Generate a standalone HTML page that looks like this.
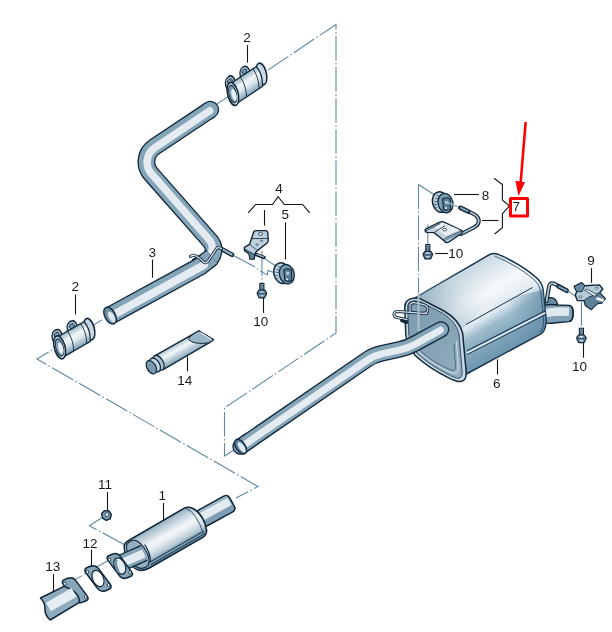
<!DOCTYPE html>
<html><head><meta charset="utf-8">
<style>
html,body{margin:0;padding:0;background:#fff;}
svg{display:block;}
text{font-family:"Liberation Sans",sans-serif;font-size:13.5px;fill:#1a1a1a;}
.dd{fill:none;stroke:#6088a0;stroke-width:1.1;stroke-dasharray:24.5 2.5 1.6 2.5;}
.ld{fill:none;stroke:#151515;stroke-width:1.1;}
.po{fill:none;stroke:#10273a;stroke-linejoin:round;}
.pm{fill:none;stroke:#84a4b8;stroke-linejoin:round;}
.ph{fill:none;stroke:#e4ecf1;stroke-linejoin:round;}
</style></head><body>
<svg width="612" height="632" viewBox="0 0 612 632">
<defs>
<linearGradient id="gTop" x1="0" y1="0" x2="1" y2="1">
<stop offset="0" stop-color="#9db8c8"/><stop offset="0.45" stop-color="#f4f8fa"/><stop offset="1" stop-color="#a9c1cf"/>
</linearGradient>
<linearGradient id="gSide" x1="0" y1="0" x2="0.4" y2="1">
<stop offset="0" stop-color="#a9c3d2"/><stop offset="1" stop-color="#6f95ad"/>
</linearGradient>
<linearGradient id="gFace" x1="0" y1="0" x2="1" y2="1">
<stop offset="0" stop-color="#7d9cb0"/><stop offset="0.6" stop-color="#86a4b6"/><stop offset="1" stop-color="#93afc0"/>
</linearGradient>
<linearGradient id="gBody" gradientUnits="userSpaceOnUse" x1="452" y1="262" x2="512" y2="362">
<stop offset="0" stop-color="#8fb0c3"/><stop offset="0.12" stop-color="#c9d9e2"/><stop offset="0.38" stop-color="#f6f9fb"/><stop offset="0.55" stop-color="#dfe9ef"/><stop offset="0.64" stop-color="#9dbbcc"/><stop offset="0.8" stop-color="#7ba1b8"/><stop offset="1" stop-color="#5f8ba6"/>
</linearGradient>
<linearGradient id="gClamp" x1="0" y1="0" x2="0" y2="1">
<stop offset="0" stop-color="#9cb7c7"/><stop offset="0.35" stop-color="#f2f6f8"/><stop offset="0.6" stop-color="#dbe6ec"/><stop offset="1" stop-color="#7fa0b5"/>
</linearGradient>
<g id="clampdef">
<path d="M-21.5 -6 Q-23 -16.5 -16.5 -17 Q-10.5 -17 -11 -8 Z" fill="#b7cbd8" stroke="#10273a" stroke-width="1.4"/>
<ellipse cx="-16.3" cy="-12.2" rx="2.8" ry="2.2" fill="#7797ad" stroke="#10273a" stroke-width="0.8"/>
<path d="M-4 -7 Q-5.5 -16.5 1 -17 Q7 -17 6.5 -8 Z" fill="#b7cbd8" stroke="#10273a" stroke-width="1.4"/>
<ellipse cx="1.2" cy="-12.2" rx="2.8" ry="2.2" fill="#7797ad" stroke="#10273a" stroke-width="0.8"/>
<ellipse cx="17.4" cy="-0.4" rx="5.2" ry="10.8" fill="#c9d8e2" stroke="#10273a" stroke-width="1.6"/>
<path d="M-17 -9.8 L14.6 -9.8 Q18.6 0.5 14.6 11 L-17 11 Z" fill="url(#gClamp)" stroke="#10273a" stroke-width="1.3"/>
<path d="M-4.5 -9.6 Q-1.5 0.5 -4.5 10.8" fill="none" stroke="#10273a" stroke-width="0.8"/>
<path d="M10.6 -9.6 Q13.6 0.5 10.6 10.8" fill="none" stroke="#10273a" stroke-width="0.8"/>
<ellipse cx="-17.2" cy="0.6" rx="5.6" ry="11.6" fill="#dbe6ed" stroke="#10273a" stroke-width="1.6"/>
<ellipse cx="-17.4" cy="0.6" rx="3.9" ry="8.8" fill="#7f9fb4" stroke="#10273a" stroke-width="1"/>
<ellipse cx="-16.4" cy="2" rx="2.4" ry="6" fill="#e9f0f4"/>
</g>
<linearGradient id="gCat" gradientUnits="userSpaceOnUse" x1="157" y1="521" x2="176" y2="554">
<stop offset="0" stop-color="#7f9db0"/><stop offset="0.2" stop-color="#b9cbd6"/><stop offset="0.45" stop-color="#f4f7f9"/><stop offset="0.58" stop-color="#e4ebf0"/><stop offset="0.76" stop-color="#b4c8d4"/><stop offset="0.84" stop-color="#7fa0b5"/><stop offset="1" stop-color="#62889f"/>
</linearGradient>
<linearGradient id="gTube" gradientUnits="userSpaceOnUse" x1="176" y1="342" x2="185" y2="358">
<stop offset="0" stop-color="#9ab6c6"/><stop offset="0.4" stop-color="#f4f8fa"/><stop offset="1" stop-color="#7da0b6"/>
</linearGradient>
<filter id="noop" x="0" y="0" width="612" height="632" filterUnits="userSpaceOnUse"><feOffset dx="0" dy="0"/></filter>
<g id="boltdef">
<rect x="-2.1" y="0" width="4.2" height="7.4" fill="#9db7c6" stroke="#10273a" stroke-width="1"/>
<path d="M-2.1 1.8 H2.1 M-2.1 3.6 H2.1 M-2.1 5.4 H2.1" stroke="#10273a" stroke-width="0.7"/>
<path d="M-2.9 6.8 L-4.7 9.4 L-4.4 11 L-2.8 14.4 L2.8 14.4 L4.4 11 L4.7 9.4 L2.9 6.8 Z" fill="#7392a8" stroke="#10273a" stroke-width="1.2" stroke-linejoin="round"/>
<path d="M-4.2 10 Q0 11.6 4.2 10" fill="none" stroke="#10273a" stroke-width="0.7"/>
<path d="M-1.6 8.4 L1.6 8.4 M-1.4 12.4 L1.4 12.4" fill="none" stroke="#dfe8ee" stroke-width="1.1"/>
</g>
<g id="mountdef">
<ellipse cx="-2.2" cy="-1" rx="8" ry="10.4" transform="rotate(-14)" fill="#c3d4df" stroke="#10273a" stroke-width="1.5"/>
<path d="M-6.4 -7.4 L-3.6 -6.2 M-7.8 -4.6 L-5 -3.4 M-8.6 -1.6 L-5.8 -0.6 M-8.8 1.6 L-6 2.4 M-8.4 4.6 L-5.6 5.2 M-7.2 7.4 L-4.6 7.8" fill="none" stroke="#4f7189" stroke-width="1.1"/>
<ellipse cx="2.4" cy="1.2" rx="7.4" ry="9.8" transform="rotate(-14)" fill="#7d9db2" stroke="#10273a" stroke-width="1.3"/>
<path d="M-0.4 -3.6 Q3.4 -6 7.2 -3.6 L7.6 6.6 Q4.4 8.8 0.6 7 Z" fill="#5b7d94" stroke="#10273a" stroke-width="1.1" stroke-linejoin="round"/>
<path d="M2.2 -1.8 L5.4 -1.2 L4.6 1.6 L2 1 Z" fill="#b7cbd8" stroke="none"/>
<circle cx="3" cy="5.6" r="1" fill="#dfe8ee"/>
</g>
<linearGradient id="gAx" gradientUnits="userSpaceOnUse" x1="425" y1="312" x2="478" y2="281">
<stop offset="0" stop-color="#7f9fb3" stop-opacity="0.75"/><stop offset="0.45" stop-color="#9db7c6" stop-opacity="0.4"/><stop offset="1" stop-color="#c9d9e2" stop-opacity="0"/>
</linearGradient>
<linearGradient id="gAx2" gradientUnits="userSpaceOnUse" x1="545" y1="300" x2="515" y2="318">
<stop offset="0" stop-color="#54809c" stop-opacity="0.5"/><stop offset="1" stop-color="#54809c" stop-opacity="0"/>
</linearGradient>
</defs>
<rect width="612" height="632" fill="#fff"/>

<!-- ====== DASH-DOT CENTER LINES ====== -->
<g id="dashlines">
<path class="dd" d="M268 70 L336 24.5 L336 333 L224.5 408 L224.5 456 L240 446"/>
<path class="dd" d="M212 107 L234 93"/>
<path class="dd" d="M102 320 L37 359 L258 486.5 L236 498"/>
<path class="dd" d="M418.5 184.5 L418.5 330"/>
<path class="dd" d="M103 517 L89.4 525.7 L124 544.5" stroke-dasharray="12 2 2 2"/>
<path class="dd" d="M109 560 L66 585" stroke-dasharray="none"/>
<path class="dd" d="M418.5 184.5 L436 196"/>
</g>

<!-- ====== PIPE 3 ====== -->
<g id="pipe3">
<!-- stud pin -->
<path d="M222.5 249.5 L232 254.8" stroke="#10273a" stroke-width="4.6" stroke-linecap="round" fill="none"/>
<path d="M223 249.6 L231.6 254.4" stroke="#9fb8c7" stroke-width="2.2" stroke-linecap="round" fill="none"/>
<!-- upper part -->
<path class="po" stroke-width="17.8" stroke-linecap="round" d="M210.3 109.7 L209 110.6"/>
<path class="po" stroke-width="17.8" d="M210.3 109.7 L154.5 146.9 A18 18 0 0 0 150.9 173.8 L210.3 241.1 A13 13 0 0 1 206.8 261.1 L196 267"/>
<path class="pm" stroke-width="15.2" stroke-linecap="round" d="M210.3 109.7 L209 110.6"/>
<path class="pm" stroke-width="15.2" d="M210.3 109.7 L154.5 146.9 A18 18 0 0 0 150.9 173.8 L210.3 241.1 A13 13 0 0 1 206.8 261.1 L196 267"/>
<path class="ph" stroke-width="7.4" stroke-linecap="round" d="M209.8 110.7 L155 147.6 A17.5 17.5 0 0 0 151.5 173.8 L210 240.6 A12 12 0 0 1 209 256"/>
<!-- lower part -->
<path class="po" stroke-width="18.6" d="M110.1 315.6 L200 266.4 L212 257"/>
<path class="pm" stroke-width="16" d="M110.1 315.6 L200 266.4 L212 257"/>
<path class="ph" stroke-width="8" stroke-linecap="round" d="M114 314.4 L204 265"/>
<!-- open end -->
<ellipse cx="110.1" cy="315.6" rx="5.2" ry="9.2" transform="rotate(-28.6 110.1 315.6)" fill="#6d8fa6" stroke="#10273a" stroke-width="1.4"/>
<ellipse cx="111.6" cy="317" rx="2.8" ry="6" transform="rotate(-28.6 111.6 317)" fill="#dce7ee"/>
<!-- wire clip -->
<path d="M190.5 256.5 Q192.5 254 197 256.5 Q201 259 203.5 262 Q206 264 208.5 260.5 L216.5 248.5 Q218 246.8 221.5 248.6" fill="none" stroke="#10273a" stroke-width="3" stroke-linecap="round" stroke-linejoin="round"/>
<path d="M190.5 256.5 Q192.5 254 197 256.5 Q201 259 203.5 262 Q206 264 208.5 260.5 L216.5 248.5 Q218 246.8 221.5 248.6" fill="none" stroke="#d6e2ea" stroke-width="1.3" stroke-linecap="round" stroke-linejoin="round"/>
</g>

<!-- ====== CLAMPS (2) ====== -->
<g id="clamps">
<use href="#clampdef" transform="matrix(0.834 -0.552 0.30 0.954 247.1 83.9)"/>
<use href="#clampdef" transform="matrix(0.866 -0.5 0.30 0.954 74.4 338.2)"/>
</g>

<!-- ====== LONG PIPE + MUFFLER ====== -->
<g id="muffler">
<!-- tail pipe -->
<path d="M545 301 Q546 297.4 551.4 297.6 Q556.4 298.4 557.6 304.6 L557 312 L545 312 Z" fill="#6a8ca3" stroke="#10273a" stroke-width="1.3" stroke-linejoin="round"/>
<path d="M540 306.4 Q548 303.6 557.6 305 L569.4 305.4 Q573.4 306.4 573.2 313.4 Q573 320.6 569 321.6 L556 322.8 Q548 324 540 322.6 Z" fill="#7fa0b5" stroke="#10273a" stroke-width="1.4" stroke-linejoin="round"/>
<path d="M546 313 Q556 311 569 311.8" stroke="#dfe8ee" stroke-width="8.6" fill="none"/>
<path d="M569.4 305.4 Q573.4 306.4 573.2 313.4 Q573 320.6 569 321.6" fill="none" stroke="#10273a" stroke-width="1.4"/>
<!-- rear hanger rod -->
<path d="M546.6 301 L549 286.6 Q549.8 282.2 554 283.6 L566.6 290.6" fill="none" stroke="#10273a" stroke-width="4" stroke-linecap="round" stroke-linejoin="round"/>
<path d="M546.6 301 L549 286.6 Q549.8 282.2 554 283.6 L566.6 290.6" fill="none" stroke="#b9cdd9" stroke-width="1.7" stroke-linecap="round" stroke-linejoin="round"/>
<path d="M558.6 286.4 L566.8 290.8" fill="none" stroke="#10273a" stroke-width="4.6" stroke-linecap="round"/>
<path d="M559 286.6 L566.4 290.5" fill="none" stroke="#7b9bb0" stroke-width="2" stroke-linecap="round"/>
<!-- body -->
<path d="M410 300.8 L486.4 256.4 Q492 252 498.4 254.4 Q521 264 536.8 278 Q542.4 283 543.2 290 L546 319 Q546.6 329.6 541.4 333.6 L466.4 374 L440 372 Z" fill="url(#gBody)" stroke="#17324a" stroke-width="1.5" stroke-linejoin="round"/>
<path d="M410 300.8 L486.4 256.4 Q492 252 498.4 254.4 L520 267 L462 330 Z" fill="url(#gAx)"/>
<path d="M543.2 290 L546 319 Q546.6 329.6 541.4 333.6 L500 356 L500 300 Z" fill="url(#gAx2)"/>
<path d="M494.6 256 Q518 265.8 533.8 279.4 Q539.8 284.6 540.8 291.6 L543.6 320 Q544 328.6 539.6 332.4" fill="none" stroke="#24445e" stroke-width="0.8"/>
<!-- seam lines -->
<path d="M466 324.5 L532.5 287.5" stroke="#17324a" stroke-width="1" fill="none"/>
<path d="M466.8 351 L545 311" stroke="#17324a" stroke-width="1.1" fill="none"/>
<path d="M467 352.8 L545.2 312.8" stroke="#dfe9ef" stroke-width="1.6" fill="none"/>
<path d="M467.2 354.6 L545.6 314.6" stroke="#17324a" stroke-width="0.9" fill="none"/>
<!-- front face -->
<path d="M407.5 300.5 Q412 297 420 298.6 L444 311 Q459 319.5 462.6 333 L466.2 372 Q466.6 383.4 457 381.2 L450 378.6 Q428 367.6 415 355.2 Q407 345 405.8 335 L404.8 307 Q404.8 302.5 407.5 300.5 Z" fill="#cbd9e3" stroke="#10273a" stroke-width="1.5" stroke-linejoin="round"/>
<path d="M409 302.6 Q412.6 299.8 419.6 301.2 L442.6 313.2 Q455.6 320.6 459 333.6 L462.2 371.6 Q462.6 379.6 456.4 378 L450.6 375.8 Q429.6 365.2 417 353.2 Q409.8 344 408.8 334.6 L407.6 308 Q407.6 304.2 409 302.6 Z" fill="url(#gFace)" stroke="#24445e" stroke-width="0.9" stroke-linejoin="round"/>
<path d="M414 338 Q412.6 346.6 420.4 353.4 Q432 363.8 450.6 372.4 Q458 375.2 458.4 369 L456.4 341" fill="none" stroke="#c5d5df" stroke-width="1.3"/>
<path d="M416.4 341 Q416 347.6 422.6 353 Q433.6 362.4 450 369.6 Q455.4 371.6 455.6 367 L454 344" fill="none" stroke="#365670" stroke-width="0.7"/>
<!-- wire loop on face -->
<g fill="none" stroke-linecap="round" stroke-linejoin="round">
<path d="M426.6 313.6 L397.4 311.4 Q393.4 311.8 394 315 Q394.8 317.6 398.6 317.8 L407 319.6" stroke="#10273a" stroke-width="3"/>
<path d="M410 312.4 L410 305.4 Q410.6 302 415.6 302.8 L423.6 304.6 Q428.6 306 427.8 310.4 Q427 313.8 422.4 313.6" stroke="#10273a" stroke-width="3"/>
<path d="M426.6 313.6 L397.4 311.4 Q393.4 311.8 394 315 Q394.8 317.6 398.6 317.8 L407 319.6" stroke="#d3e0e8" stroke-width="1.2"/>
<path d="M410 312.4 L410 305.4 Q410.6 302 415.6 302.8 L423.6 304.6 Q428.6 306 427.8 310.4 Q427 313.8 422.4 313.6" stroke="#d3e0e8" stroke-width="1.2"/>
<path d="M401.6 320.6 L406.6 322.4" stroke="#10273a" stroke-width="3.2"/>
</g>
<path d="M418.5 292 V331" stroke="#dce8ef" stroke-width="1.6" fill="none"/>
<path d="M418.5 292 V331" stroke="#7fa3b8" stroke-width="0.6" fill="none"/>
<!-- long pipe -->
<path class="po" stroke-width="16.5" stroke-linecap="round" d="M240.6 446.6 L366.4 360 Q373.2 355.2 381.4 353.4 L399.6 349.4 Q407.6 347.7 414.2 344 L441 329.4"/>
<path class="po" stroke-width="16.5" d="M240.6 446.6 L250 440" stroke-linecap="butt"/>
<path class="pm" stroke-width="14" stroke-linecap="round" d="M240.6 446.6 L366.4 360 Q373.2 355.2 381.4 353.4 L399.6 349.4 Q407.6 347.7 414.2 344 L441 329.4"/>
<path class="ph" stroke-width="7" stroke-linecap="round" d="M246 443.6 L366.8 360.5 Q373.6 355.7 381.8 353.9 L400 349.9 Q408 348.2 414.6 344.5 L440.4 330.2"/>
<!-- open end -->
<ellipse cx="240.6" cy="446.6" rx="4.6" ry="8.3" transform="rotate(-34.5 240.6 446.6)" fill="#5d7f97" stroke="#17324a" stroke-width="1.4"/>
<ellipse cx="241.6" cy="447.2" rx="2.6" ry="6" transform="rotate(-34.5 241.6 447.2)" fill="#dfe9ef"/>
</g>

<!-- ====== CONVERTER (1) + FLANGES ====== -->
<g id="cat">
<!-- outlet pipe -->
<path d="M197 511 L224.2 496 Q227.4 494.6 229.6 497.6 L234.6 506.8 Q235.8 510.2 232.8 511.8 L205 527 Z" fill="#7d9eb3" stroke="#10273a" stroke-width="1.5" stroke-linejoin="round"/>
<path d="M201.4 515.6 L229 500.6" stroke="#9db8c8" stroke-width="11" fill="none"/>
<path d="M202 516.4 L229.6 501.4" stroke="#e4ecf1" stroke-width="8" fill="none"/>
<!-- body -->
<path d="M129.5 540 L183.5 508.6 Q189 505.8 194 509 Q204 515.5 206.6 530 Q207 535 202 537.8 L148.5 568.5 Q140 572.5 134.5 568 Q124 558 124.2 546 Q124.5 542.5 129.5 540 Z" fill="url(#gCat)" stroke="#10273a" stroke-width="1.5" stroke-linejoin="round"/>
<path d="M150 562 L203.5 531.2" stroke="#10273a" stroke-width="0.9" fill="none"/>
<path d="M151 564.6 L204.6 533.8" stroke="#10273a" stroke-width="0.9" fill="none"/>
<path d="M186 508.4 Q196.5 512 203.6 534.4" fill="none" stroke="#24445e" stroke-width="0.9"/>
<!-- front cap -->
<path d="M130.5 541 Q126 543.5 126.5 548 Q128 558.5 136 566.5 Q140.5 570 146 567 Q151 564 148 555 Q144 545 137 541 Q133.5 539.5 130.5 541 Z" fill="#93afc0" stroke="#10273a" stroke-width="1.1"/>
<!-- inlet pipe -->
<path class="po" stroke-width="17.4" d="M144 553 L120 563.6"/>
<path class="pm" stroke-width="14.8" d="M144 553 L120 563.6"/>
<path class="ph" stroke-width="8.4" d="M144 553.4 L120 564"/>
<path d="M144.6 544.6 Q150.6 552.6 150.4 562" fill="none" stroke="#10273a" stroke-width="1.2"/>
<g transform="translate(119.8 566)">
<path d="M-11.7 -5.6 Q-14.4 -9.1 -10.2 -10.7 L-7.5 -11.8 Q-2.5 -13.8 0.7 -9.4 L11.7 5.6 Q14.4 9.1 10.2 10.7 L7.5 11.8 Q2.5 13.8 -0.7 9.4 Z" fill="#87a5b8" stroke="#10273a" stroke-width="1.5" stroke-linejoin="round"/>
<ellipse cx="0" cy="0" rx="5.4" ry="8.6" transform="rotate(-24)" fill="#e6eef3" stroke="#10273a" stroke-width="1.2"/>
<ellipse cx="-10.3" cy="-6.4" rx="1.3" ry="1.7" fill="#eef3f6" stroke="#10273a" stroke-width="0.8"/>
<ellipse cx="10.3" cy="6.4" rx="1.3" ry="1.7" fill="#eef3f6" stroke="#10273a" stroke-width="0.8"/>
</g>
<path d="M116.2 560.4 Q114.8 565 118.4 571.6" fill="none" stroke="#6f90a6" stroke-width="2.6" stroke-linecap="round"/>
<!-- gasket 12 -->
<g transform="translate(98 578.5)">
<path d="M-12.2 -5.8 Q-14.8 -9.4 -10.7 -11.0 L-7.6 -12.2 Q-2.6 -14.2 0.6 -9.9 L12.2 5.8 Q14.8 9.4 10.7 11.0 L7.6 12.2 Q2.6 14.2 -0.6 9.9 Z" fill="#87a5b8" stroke="#10273a" stroke-width="1.5" stroke-linejoin="round"/>
<ellipse cx="0" cy="0" rx="5.4" ry="8.6" transform="rotate(-24)" fill="#ffffff" stroke="#10273a" stroke-width="1.2"/>
<ellipse cx="-10.6" cy="-6.6" rx="1.3" ry="1.7" fill="#eef3f6" stroke="#10273a" stroke-width="0.8"/>
<ellipse cx="10.6" cy="6.6" rx="1.3" ry="1.7" fill="#eef3f6" stroke="#10273a" stroke-width="0.8"/>
</g>
<!-- pipe 13 -->
<g transform="translate(75.2 590.2)">
<path d="M-11.9 -5.7 Q-14.5 -9.2 -10.4 -10.8 L-7.6 -11.9 Q-2.5 -13.9 0.6 -9.6 L11.9 5.7 Q14.5 9.2 10.4 10.8 L7.6 11.9 Q2.5 13.9 -0.6 9.6 Z" fill="#87a5b8" stroke="#10273a" stroke-width="1.5" stroke-linejoin="round"/>
<ellipse cx="-10.4" cy="-6.5" rx="1.3" ry="1.7" fill="#eef3f6" stroke="#10273a" stroke-width="0.8"/>
<ellipse cx="10.4" cy="6.5" rx="1.3" ry="1.7" fill="#eef3f6" stroke="#10273a" stroke-width="0.8"/>
</g>
<path d="M64 586.4 L40.4 598 Q45.4 603 45 609 Q44.6 615 50.2 620 L79.4 602.4 Q80 592 64 586.4 Z" fill="#8dabbd" stroke="#10273a" stroke-width="1.5" stroke-linejoin="round"/>
<path d="M74 592.4 L48.4 607" stroke="#e6eef3" stroke-width="10" stroke-linecap="butt" fill="none"/>
<!-- nut 11 -->
<path d="M101.6 513.6 L104.6 510.6 L109 511 L111.4 514.6 L110.2 518.8 L106.2 520.4 L102.6 518.2 Z" fill="#7e9db2" stroke="#10273a" stroke-width="1.4" stroke-linejoin="round"/>
<ellipse cx="107" cy="514.6" rx="1.8" ry="2.1" fill="#dbe6ed" stroke="#10273a" stroke-width="0.7"/>
</g>

<!-- ====== TUBE 14 ====== -->
<g id="tube14">
<path d="M154.7 355.9 L198.8 330.9 L213.5 339.7 L209 342.8 L163.5 369.3 Z" fill="url(#gTube)" stroke="#10273a" stroke-width="1.4" stroke-linejoin="round"/>
<path d="M198.8 330.9 Q189 336 188.6 339.6 Q194 345 209 342.8 L213.5 339.7 Z" fill="#9ab6c6" stroke="#10273a" stroke-width="1" stroke-linejoin="round"/>
<path d="M200.5 332.6 L211.5 339.4" stroke="#dfe9ef" stroke-width="1.2" fill="none"/>
<ellipse cx="158.6" cy="362.8" rx="4.6" ry="8.2" transform="rotate(-29.5 158.6 362.8)" fill="#a9c1cf" stroke="#10273a" stroke-width="1.3"/>
<ellipse cx="155" cy="365" rx="4.6" ry="7.6" transform="rotate(-29.5 155 365)" fill="#c9d8e2" stroke="#10273a" stroke-width="1.3"/>
<ellipse cx="151.4" cy="367.2" rx="4.4" ry="7.2" transform="rotate(-29.5 151.4 367.2)" fill="#7a9bb1" stroke="#10273a" stroke-width="1.3"/>
</g>

<!-- ====== BRACKET (4) / MOUNT (5) / BOLT ====== -->
<g id="hang45">
<path class="dd" stroke-dasharray="none" d="M233.5 255.5 L256 267.4 L258.5 270 L267.2 275 L268 270.4 L274 272.5"/>
<path class="dd" stroke-dasharray="none" d="M264.5 258.6 L276 266"/>
<path class="dd" stroke-dasharray="none" d="M261.9 251 V283.5" stroke-width="1.4"/>
<path d="M253.4 232.8 Q253.8 230.6 256 230.6 L265.4 230.6 Q267.6 230.6 267.8 233 L268.2 240.4 Q268.2 242 266.8 243.2 L257.4 250.6 L255.2 253 L254.2 259 L249.8 259 L249.2 254 L244.4 250.6 L244.4 247.4 L249.6 244.4 Z" fill="#bfd1dc" stroke="#10273a" stroke-width="1.4" stroke-linejoin="round"/>
<path d="M252 238.6 L267.6 238.4" stroke="#10273a" stroke-width="0.8" fill="none"/>
<path d="M249.6 244.4 L257.4 250.6" stroke="#10273a" stroke-width="0.7" fill="none"/>
<path d="M244.4 249 L254.5 254.6 L254.2 259 L249.8 259 L249.2 254 L244.4 250.6 Z" fill="#5e7f96" stroke="#10273a" stroke-width="0.9" stroke-linejoin="round"/>
<ellipse cx="260.6" cy="233.9" rx="2" ry="1.5" fill="#fff" stroke="#10273a" stroke-width="0.8"/>
<ellipse cx="261.6" cy="240.8" rx="1.2" ry="0.8" fill="#dfe8ee" stroke="#10273a" stroke-width="0.6"/>
<ellipse cx="257" cy="244.6" rx="1.2" ry="0.8" fill="#dfe8ee" stroke="#10273a" stroke-width="0.6"/>
<path d="M256.6 254.6 L263.8 257.4" stroke="#10273a" stroke-width="3.6" stroke-linecap="round" fill="none"/>
<path d="M257 254.4 L263.4 256.9" stroke="#9fb8c7" stroke-width="1.4" stroke-linecap="round" fill="none"/>
<use href="#mountdef" transform="translate(284.2 273.6)"/>
<use href="#boltdef" transform="translate(261.9 283.4)"/>
</g>

<!-- ====== HANGER (7) / MOUNT (8) / BOLT ====== -->
<g id="hang78">
<path class="dd" stroke-dasharray="none" d="M447.5 202.4 L460 207.6"/>
<path class="dd" stroke-dasharray="none" d="M427.8 224.4 V244.5" stroke-width="1.4"/>
<use href="#mountdef" transform="translate(442.9 202.5)"/>
<path d="M445.5 201.6 L460 207.6" stroke="#a9c5d4" stroke-width="1.2" fill="none"/>
<!-- rod -->
<path d="M460.4 207.8 L473.2 213.8 Q479.6 217 478.6 222.4 Q478 225.2 474.4 227.2 L461 234" fill="none" stroke="#10273a" stroke-width="4" stroke-linecap="round" stroke-linejoin="round"/>
<path d="M460.4 207.8 L473.2 213.8 Q479.6 217 478.6 222.4 Q478 225.2 474.4 227.2 L461 234" fill="none" stroke="#b7cbd8" stroke-width="1.6" stroke-linecap="round" stroke-linejoin="round"/>
<path d="M460.6 207.9 L468 211.4" fill="none" stroke="#10273a" stroke-width="4.6" stroke-linecap="round"/>
<path d="M461 208 L467.6 211.1" fill="none" stroke="#7b9bb0" stroke-width="2.2" stroke-linecap="round"/>
<!-- plate -->
<path d="M425.4 229.2 Q424.4 231.4 426.6 232.4 L434 232.6 L444.4 241 Q446 243.4 448.6 242.2 L462.4 232.6 L462 230.6 L443.4 222 Q441.6 221.2 439.8 222.2 Z" fill="#c3d4df" stroke="#10273a" stroke-width="1.4" stroke-linejoin="round"/>
<path d="M433.6 226 L446 236 L459.6 229.8 L443 222.6 Z" fill="#e6eef3" stroke="none"/>
<path d="M426 230.8 L440.2 223.6 M434 232.6 L445 225.6" stroke="#10273a" stroke-width="0.8" fill="none"/>
<path d="M444.4 241 Q443.4 238.6 446.6 237.4 L461.8 230.8" stroke="#10273a" stroke-width="0.8" fill="none"/>
<path d="M446 239.6 L461.5 232.2" stroke="#6f92a9" stroke-width="1.8" fill="none"/>
<ellipse cx="444.6" cy="229.6" rx="2" ry="1.4" fill="#fff" stroke="#10273a" stroke-width="0.8"/>
<use href="#boltdef" transform="translate(427.8 244.5)"/>
</g>

<!-- ====== PART 9 + BOLT ====== -->
<g id="part9">
<path class="dd" stroke-dasharray="none" d="M567.4 290.4 L577 297.2"/>
<path d="M574.2 286.5 L581.8 282.7 L584.6 285.8 L599.5 284.9 L602.8 289.0 L599.7 292.8 L605.3 298.5 L602.0 302.9 L597.0 303.7 L591.3 309.5 L585.6 305.7 L584.1 300.6 L577.3 300.6 L575.3 295.3 L576.7 291.5 Z" fill="#b7cbd8" stroke="#10273a" stroke-width="1.4" stroke-linejoin="round"/>
<path d="M574.2 286.5 L581.8 282.7 L584.6 285.8 L582.0 291.8 L576.7 291.5 Z" fill="#6a8ba2" stroke="#10273a" stroke-width="0.9" stroke-linejoin="round"/>
<path d="M584.1 300.6 L588.6 297.3 L599.7 292.8 L605.3 298.5 L602.0 302.9 L597.0 303.7 L591.3 309.5 L585.6 305.7 Z" fill="#5f8198" stroke="#10273a" stroke-width="0.9" stroke-linejoin="round"/>
<path d="M584.6 290.3 L587.1 289.0 L597.2 294.8 L594.4 296.3 Z" fill="#dfe8ee" stroke="#10273a" stroke-width="0.7" stroke-linejoin="round"/>
<path d="M597.4 298.6 L602.8 300.4" stroke="#eef3f6" stroke-width="2.8" stroke-linecap="round" fill="none"/>
<ellipse cx="596.6" cy="288.2" rx="1.6" ry="1" fill="#fff" stroke="#10273a" stroke-width="0.6"/>
<ellipse cx="580.6" cy="297" rx="1.6" ry="1" fill="#fff" stroke="#10273a" stroke-width="0.6"/>
<path class="dd" stroke-dasharray="none" d="M581.4 301.6 V328" stroke-width="1.4"/>
<use href="#boltdef" transform="translate(581.4 328.2)"/>
</g>

<!-- ====== LABELS ====== -->
<g id="labels" filter="url(#noop)">
<text x="246.95" y="42.2" text-anchor="middle">2</text>
<text x="152.25" y="256.6" text-anchor="middle">3</text>
<text x="75.30" y="291.3" text-anchor="middle">2</text>
<text x="279.05" y="192.6" text-anchor="middle">4</text>
<text x="285.35" y="218.7" text-anchor="middle">5</text>
<text x="260.85" y="326.1" text-anchor="middle">10</text>
<text x="184.85" y="384.6" text-anchor="middle">14</text>
<text x="485.60" y="199.7" text-anchor="middle">8</text>
<text x="516.35" y="211.4" text-anchor="middle">7</text>
<text x="455.65" y="257.6" text-anchor="middle">10</text>
<text x="590.90" y="265.2" text-anchor="middle">9</text>
<text x="579.60" y="371.4" text-anchor="middle">10</text>
<text x="496.70" y="387.9" text-anchor="middle">6</text>
<text x="105.10" y="489.1" text-anchor="middle">11</text>
<text x="162.20" y="499.9" text-anchor="middle">1</text>
<text x="90.05" y="547.9" text-anchor="middle">12</text>
<text x="52.75" y="571.0" text-anchor="middle">13</text>
<path class="ld" d="M247.5 45.1 V62.7"/>
<path class="ld" d="M152.5 259.5 V277.7"/>
<path class="ld" d="M75.5 294.4 V314.4"/>
<path class="ld" d="M264.5 210 V225.7"/>
<path class="ld" d="M285.5 222.4 V259.5"/>
<path class="ld" d="M263.5 297.6 V312.8"/>
<path class="ld" d="M187.5 356.6 V371.3"/>
<path class="ld" d="M591.5 268.2 V282.9"/>
<path class="ld" d="M583.5 342 V357.7"/>
<path class="ld" d="M497.5 359.4 V374.4"/>
<path class="ld" d="M107.5 492 V510.4"/>
<path class="ld" d="M163.5 503 V520.2"/>
<path class="ld" d="M91.5 549.7 V566"/>
<path class="ld" d="M53.5 574.2 V592.5"/>
<path class="ld" d="M454 194.5 H478.9"/>
<path class="ld" d="M482 220.5 H498.6"/>
<path class="ld" d="M435.2 253.5 H448"/>
<path class="ld" d="M248.2 212.8 L255.6 204.5 H272.5 L278.1 196.6 L284.3 204.5 H302.6 L309.7 212.8" stroke-width="0.9" fill="none"/>
<path class="ld" d="M494 178.2 L502.4 184.6 V200 L509.5 206 L502.4 213.6 V227.8 L494.6 234" stroke-width="0.9" fill="none"/>
</g>

<!-- ====== RED ANNOTATION ====== -->
<g id="red">
<rect x="510.5" y="198.6" width="17" height="17.4" fill="none" stroke="#ff0000" stroke-width="3" stroke-linejoin="round"/>
<path d="M525.6 123 L520.6 183" stroke="#ff0000" stroke-width="2.6" stroke-linecap="round" fill="none"/>
<path d="M515.4 180.8 L525 182.2 L518.5 196 Z" fill="#ff0000"/>
</g>
</svg>
</body></html>
